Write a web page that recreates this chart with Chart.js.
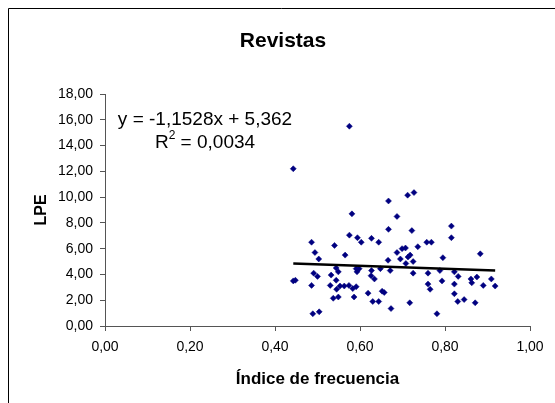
<!DOCTYPE html>
<html>
<head>
<meta charset="utf-8">
<script src="https://cdn.jsdelivr.net/npm/chart.js@4"></script>
<style>
    html, body { margin: 0; padding: 0; background: #fff; }
</style>
</head>
<body>
<canvas id="revistas" width="555" height="403"></canvas>
<script>
// Índice de frecuencia (x) y LPE (y) de cada revista
const indiceFrecuencia = [
    0.575, 0.443, 0.581, 0.575, 0.486, 0.540, 0.494, 0.565, 0.503, 0.544,
    0.549, 0.491, 0.500, 0.532, 0.544, 0.443, 0.448, 0.486, 0.530, 0.545,
    0.553, 0.563, 0.574, 0.583, 0.586, 0.537, 0.549, 0.489, 0.504,
    0.594, 0.603, 0.667, 0.712, 0.727, 0.687, 0.667, 0.722, 0.627, 0.644,
    0.736, 0.687, 0.699, 0.707, 0.695, 0.713, 0.718, 0.708, 0.725, 0.666,
    0.591, 0.598, 0.593, 0.627, 0.648, 0.671, 0.725, 0.626, 0.634, 0.591,
    0.619, 0.652, 0.657, 0.630, 0.644, 0.717, 0.673,
    0.815, 0.815, 0.757, 0.768, 0.795, 0.883, 0.760, 0.788, 0.822, 0.831,
    0.861, 0.875, 0.863, 0.909, 0.793, 0.760, 0.765, 0.822, 0.890, 0.918,
    0.822, 0.830, 0.845, 0.871, 0.781,
];
const lpe = [
    15.5, 12.2, 8.7, 7.05, 6.5, 6.25, 5.7, 5.5, 5.2, 4.5,
    4.2, 4.1, 3.85, 3.95, 3.55, 3.5, 3.55, 3.15, 3.15, 2.85,
    3.1, 3.1, 3.15, 2.9, 2.25, 2.15, 2.25, 0.95, 1.1,
    6.85, 6.5, 9.7, 10.15, 10.35, 8.5, 7.5, 7.4, 6.8, 6.5,
    6.15, 5.7, 6.0, 6.05, 5.2, 5.35, 5.5, 4.85, 5.0, 5.1,
    4.45, 4.45, 4.2, 4.3, 4.45, 4.3, 4.1, 3.9, 3.65, 3.05,
    2.55, 2.7, 2.6, 1.9, 1.9, 1.8, 1.35,
    7.75, 6.85, 6.5, 6.5, 5.3, 5.6, 4.1, 4.3, 4.2, 3.85,
    3.65, 3.8, 3.35, 3.65, 3.5, 3.25, 2.85, 3.25, 3.15, 3.1,
    2.5, 1.9, 2.05, 1.8, 0.95,
];

// línea de tendencia lineal
const pendiente = -1.1528;
const ordenada = 5.362;
const r2 = 0.0034;

const fuente = "Arial, 'Liberation Sans', sans-serif";
Chart.defaults.font.family = fuente;

const coma = (v, d) => v.toFixed(d).replace(".", ",");

const puntos = indiceFrecuencia.map((x, i) => ({ x: x, y: lpe[i] }));
const xMin = Math.min(...indiceFrecuencia);
const xMax = Math.max(...indiceFrecuencia);
const tendencia = [xMin, xMax].map((x) => ({ x: x, y: pendiente * x + ordenada }));

const textos = {
    id: "textos",
    afterDraw(chart) {
        const ctx = chart.ctx;
        const area = chart.chartArea;
        ctx.save();

        // marco del gráfico
        ctx.strokeStyle = "#000";
        ctx.lineWidth = 1;
        ctx.beginPath();
        ctx.moveTo(8.5, 403);
        ctx.lineTo(8.5, 8.5);
        ctx.lineTo(555, 8.5);
        ctx.stroke();

        ctx.fillStyle = "#000";
        ctx.textAlign = "center";
        ctx.textBaseline = "middle";
        ctx.font = "bold 21px " + fuente;
        ctx.fillText("Revistas", 283, 41);

        ctx.font = "bold 17px " + fuente;
        ctx.fillText("Índice de frecuencia", (area.left + area.right) / 2, 379);

        ctx.save();
        ctx.translate(42, (area.top + area.bottom) / 2);
        ctx.rotate(-Math.PI / 2);
        ctx.font = "bold 16px " + fuente;
        ctx.fillText("LPE", 0, 0);
        ctx.restore();

        // ecuación y R²
        const cx = area.left + 100;
        ctx.font = "19px " + fuente;
        const signo = ordenada < 0 ? " - " : " + ";
        ctx.fillText("y = " + coma(pendiente, 4) + "x" + signo + coma(Math.abs(ordenada), 3), cx, area.top + 26);

        const resto = " = " + coma(r2, 4);
        ctx.textAlign = "left";
        const wR = ctx.measureText("R").width;
        const wResto = ctx.measureText(resto).width;
        ctx.font = "12px " + fuente;
        const wSup = ctx.measureText("2").width;
        const x0 = cx - (wR + wSup + wResto) / 2;
        const yR = area.top + 49;
        ctx.font = "19px " + fuente;
        ctx.fillText("R", x0, yR);
        ctx.font = "12px " + fuente;
        ctx.fillText("2", x0 + wR, yR - 7);
        ctx.font = "19px " + fuente;
        ctx.fillText(resto, x0 + wR + wSup, yR);

        ctx.restore();
    },
};

new Chart(document.getElementById("revistas"), {
    type: "scatter",
    data: {
        datasets: [
            {
                type: "line",
                label: "Tendencia",
                data: tendencia,
                borderColor: "#000",
                borderWidth: 2.5,
                pointRadius: 0,
                fill: false,
            },
            {
                label: "Revistas",
                data: puntos,
                pointStyle: "rectRot",
                pointRadius: 3,
                backgroundColor: "#000080",
                borderColor: "#000080",
                borderWidth: 0.5,
            },
        ],
    },
    options: {
        responsive: false,
        animation: false,
        devicePixelRatio: 1,
        layout: {
            padding: { left: 0, top: 94, right: 25, bottom: 0 },
        },
        plugins: {
            legend: { display: false },
            tooltip: { enabled: false },
        },
        scales: {
            x: {
                type: "linear",
                min: 0,
                max: 1,
                afterFit: (scale) => { scale.height = 77; },
                ticks: {
                    stepSize: 0.2,
                    color: "#000",
                    font: { size: 14 },
                    padding: 8,
                    maxRotation: 0,
                    callback: (v) => coma(v, 2),
                },
                grid: { drawOnChartArea: false, tickLength: 5, color: "#555" },
                border: { color: "#555", width: 1 },
            },
            y: {
                min: 0,
                max: 18,
                afterFit: (scale) => { scale.width = 105; },
                ticks: {
                    stepSize: 2,
                    color: "#000",
                    font: { size: 14 },
                    padding: 7,
                    callback: (v) => coma(v, 2),
                },
                grid: { drawOnChartArea: false, tickLength: 5, color: "#555" },
                border: { color: "#555", width: 1 },
            },
        },
    },
    plugins: [textos],
});
</script>
</body>
</html>
